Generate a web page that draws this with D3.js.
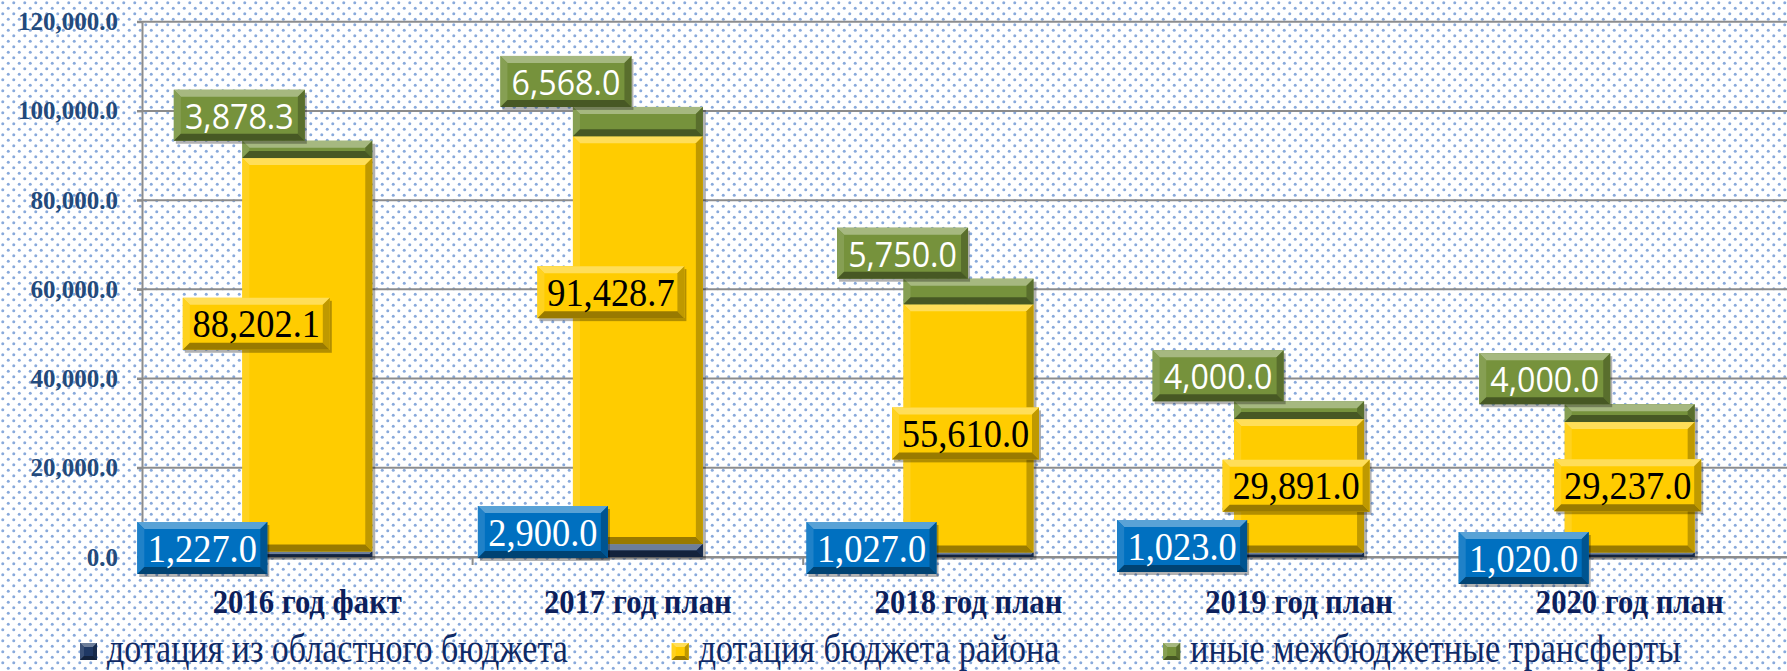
<!DOCTYPE html>
<html>
<head>
<meta charset="utf-8">
<script src="https://cdn.jsdelivr.net/npm/d3@7"></script>
<style>
  body { margin: 0; background: #fff; }
  svg { display: block; }
</style>
</head>
<body>
<script>
// --- data ---
const categories = ["2016 год факт", "2017 год план", "2018 год план", "2019 год план", "2020 год план"];
const seriesNames = ["дотация из областного бюджета", "дотация бюджета района", "иные межбюджетные трансферты"];
const regionalGrant = [1227.0, 2900.0, 1027.0, 1023.0, 1020.0];
const districtGrant = [88202.1, 91428.7, 55610.0, 29891.0, 29237.0];
const otherTransfers = [3878.3, 6568.0, 5750.0, 4000.0, 4000.0];
const yTickValues = [0, 20000, 40000, 60000, 80000, 100000, 120000];

// --- layout ---
const width = 1787, height = 671;
const plot = { left: 142, right: 1795, top: 21.7, bottom: 557 };
const barColors = ["#1f3864", "#ffcc00", "#76923c"];
const boxColors = ["#0070c0", "#ffcc00", "#76923c"];
const textColors = ["#fff", "#000", "#fff"];
// hand-placed data label offsets, as in the original chart
const labelNudge = [
  [[-1, 0], [9, -16], [7, 0], [-13, -2], [-2, 10]],        // blue, from default spot
  [[-51, -31], [-27, -48], [-3, 5], [-3, 0], [-2, -2]],     // yellow, from segment middle
  [[-3, 0], [-7, 0], [-1, 0], [-16, 0], [-20, 0]]           // green, from bar left edge
];
const fmt = d3.format(",.1f");

const rows = categories.map((c, i) => ({ cat: c, 0: regionalGrant[i], 1: districtGrant[i], 2: otherTransfers[i] }));
const stacked = d3.stack().keys([0, 1, 2])(rows);

const x = d3.scaleBand().domain(categories).range([plot.left, plot.right])
  .paddingInner(0.607).paddingOuter(0.3035);
const y = d3.scaleLinear().domain([0, 120000]).range([plot.bottom, plot.top]);

const svg = d3.select("body").append("svg").attr("width", width).attr("height", height);

// dotted background
const defs = svg.append("defs");
const pat = defs.append("pattern").attr("id", "dots").attr("patternUnits", "userSpaceOnUse")
  .attr("width", 11).attr("height", 11);
pat.append("rect").attr("width", 11).attr("height", 11).attr("fill", "#fff");
pat.selectAll("circle").data([[2.75, 2.75], [8.25, 8.25]]).enter().append("circle")
  .attr("cx", d => d[0]).attr("cy", d => d[1]).attr("r", 1.5)
  .attr("fill", "#5585cc").attr("opacity", 0.7);
svg.append("rect").attr("width", width).attr("height", height).attr("fill", "url(#dots)");

const mix = (a, b, t) => d3.interpolateRgb(a, b)(t);

// rectangle with a flat bevel on its four sides
function bevelRect(g, bx, by, w, h, base, b) {
  g.append("rect").attr("x", bx).attr("y", by).attr("width", w).attr("height", h).attr("fill", base);
  b = Math.min(b, h / 2, w / 2);
  const faces = [
    { p: [[bx, by], [bx + w, by], [bx + w - b, by + b], [bx + b, by + b]], c: mix(base, "#fff", 0.35) },
    { p: [[bx, by], [bx + b, by + b], [bx + b, by + h - b], [bx, by + h]], c: mix(base, "#fff", 0.12) },
    { p: [[bx + w, by], [bx + w, by + h], [bx + w - b, by + h - b], [bx + w - b, by + b]], c: mix(base, "#000", 0.25) },
    { p: [[bx, by + h], [bx + b, by + h - b], [bx + w - b, by + h - b], [bx + w, by + h]], c: mix(base, "#000", 0.4) }
  ];
  g.selectAll(null).data(faces).enter().append("polygon")
    .attr("points", d => d.p.map(q => q.join(",")).join(" "))
    .attr("fill", d => d.c);
}

// gridlines
svg.append("g").selectAll("line").data(yTickValues).enter().append("line")
  .attr("x1", plot.left - 5).attr("x2", width)
  .attr("y1", d => y(d)).attr("y2", d => y(d))
  .attr("stroke", "#8c8c8c").attr("stroke-width", 2);

// y axis
const yAxis = svg.append("g").attr("transform", `translate(${plot.left},0)`)
  .call(d3.axisLeft(y).tickValues(yTickValues).tickFormat(fmt).tickSize(5).tickSizeOuter(0).tickPadding(19));
yAxis.select(".domain").attr("stroke", "#8c8c8c").attr("stroke-width", 2);
yAxis.selectAll(".tick line").attr("stroke", "#8c8c8c").attr("stroke-width", 2);
yAxis.selectAll("text").attr("font-family", "Liberation Serif").attr("font-weight", "bold")
  .attr("font-size", 25).attr("fill", "#234a7c");

// x axis
const xAxis = svg.append("g").attr("transform", `translate(0,${plot.bottom})`)
  .call(d3.axisBottom(x).tickSize(0).tickSizeOuter(0).tickFormat(""));
xAxis.select(".domain").attr("stroke", "#8c8c8c").attr("stroke-width", 2);
xAxis.selectAll(".tick").append("text")
  .attr("transform", "translate(0,56) scale(0.93,1)")
  .attr("text-anchor", "middle")
  .attr("font-family", "Liberation Serif").attr("font-weight", "bold")
  .attr("font-size", 33).attr("fill", "#0c1f5c")
  .text(d => d);
const gap = x.step() * x.paddingInner();
xAxis.selectAll(".bound").data(categories).enter().append("line")
  .attr("x1", d => x(d) - gap / 2).attr("x2", d => x(d) - gap / 2)
  .attr("y1", 0).attr("y2", 8).attr("stroke", "#8c8c8c").attr("stroke-width", 2);

// stacked bars
const bars = svg.append("g");
categories.forEach((c, i) => {
  const top = y(stacked[2][i][1]);
  bars.append("rect").attr("x", x(c) + 3).attr("y", top + 3)
    .attr("width", x.bandwidth()).attr("height", plot.bottom - top)
    .attr("fill", "#000").attr("opacity", 0.3);
});
stacked.forEach((s, k) => {
  s.forEach((d, i) => {
    const y0 = y(d[1]), h = y(d[0]) - y(d[1]);
    bevelRect(bars, x(categories[i]), y0, x.bandwidth(), h, barColors[k], 7);
  });
});

// data labels
const boxW = [130, 147, 131], boxH = [52, 52, 51];
const labels = svg.append("g");
[2, 1, 0].forEach(k => {
  stacked[k].forEach((d, i) => {
    const c = categories[i];
    const [dx, dy] = labelNudge[k][i];
    let cx, cy;
    if (k === 0) { cx = x(c) + x.bandwidth() / 2 - 104 + dx; cy = y(0) - 9 + dy; }
    else if (k === 1) { cx = x(c) + x.bandwidth() / 2 + dx; cy = y((d[0] + d[1]) / 2) + dy; }
    else { cx = x(c) + dx; cy = y(d[1]) - boxH[k] / 2 + dy; }
    const bx = cx - boxW[k] / 2, by = cy - boxH[k] / 2;
    labels.append("rect").attr("x", bx + 2).attr("y", by + 3).attr("width", boxW[k]).attr("height", boxH[k])
      .attr("fill", "#000").attr("opacity", 0.3);
    bevelRect(labels, bx, by, boxW[k], boxH[k], boxColors[k], 7);
    const sans = k === 2;
    labels.append("text")
      .attr("transform", `translate(${cx},${cy + 13.5}) scale(${sans ? 0.92 : 0.91},1)`)
      .attr("text-anchor", "middle")
      .attr("font-family", sans ? "Open Sans" : "Liberation Serif")
      .attr("font-size", sans ? 35 : 40)
      .attr("fill", textColors[k])
      .text(fmt(d.data[k]));
  });
});

// legend
const legend = svg.append("g");
let lx = 80;
seriesNames.forEach((name, k) => {
  bevelRect(legend, lx, 643, 17, 17, barColors[k], 4);
  const sx = 0.85;
  const t = legend.append("text")
    .attr("transform", `translate(${lx + 27},662) scale(${sx},1)`)
    .attr("font-family", "Liberation Serif").attr("font-size", 40)
    .attr("fill", "#0f2a66").text(name);
  lx += 27 + t.node().getComputedTextLength() * sx + 104;
});
</script>
</body>
</html>
